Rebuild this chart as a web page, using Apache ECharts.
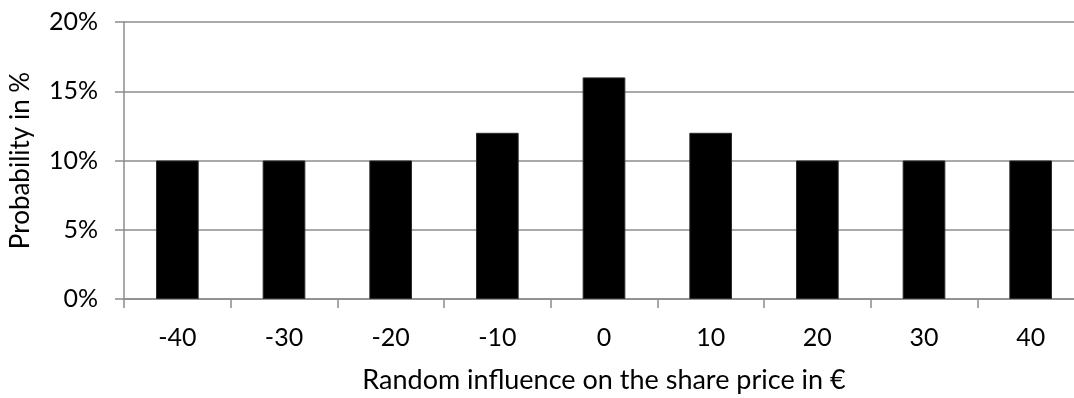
<!DOCTYPE html>
<html>
<head>
<meta charset="utf-8">
<title>Random influence on the share price</title>
<script src="https://cdn.jsdelivr.net/npm/echarts@6/dist/echarts.min.js"></script>
<style>
  html, body { margin: 0; padding: 0; background: #ffffff; }
  #chart { width: 1074px; height: 398px; }
</style>
</head>
<body>
<div id="chart"></div>
<script>
// Price change in euros and the probability of each outcome (in %)
const priceChanges = ['-40', '-30', '-20', '-10', '0', '10', '20', '30', '40'];
const probabilities = [10, 10, 10, 12, 16, 12, 10, 10, 10];
const yTicks = [0, 5, 10, 15, 20];

const FONT = 'Lato, "Open Sans", "DejaVu Sans", sans-serif';
const GRID_GRAY = '#8c8c8c';

const chart = echarts.init(document.getElementById('chart'), null, { renderer: 'canvas' });

chart.setOption({
  animation: false,
  backgroundColor: '#ffffff',
  grid: {
    left: 124,
    top: 22,
    width: 960,
    height: 277,
    containLabel: false,
    outerBoundsMode: 'none'
  },
  xAxis: {
    type: 'category',
    data: priceChanges,
    name: 'Random influence on the share price in €',
    nameLocation: 'middle',
    nameGap: 68,
    nameTextStyle: { fontFamily: FONT, fontSize: 27, color: '#000' },
    axisLine: { show: true, lineStyle: { color: GRID_GRAY, width: 1.5 } },
    axisTick: { show: true, length: 9, interval: 0, lineStyle: { color: GRID_GRAY, width: 1.5 } },
    axisLabel: { margin: 26, fontFamily: FONT, fontSize: 25, color: '#000', interval: 0 },
    splitLine: { show: false }
  },
  yAxis: {
    type: 'value',
    min: yTicks[0],
    max: yTicks[yTicks.length - 1],
    interval: yTicks[1] - yTicks[0],
    name: 'Probability in %',
    nameLocation: 'middle',
    nameGap: 90,
    nameTextStyle: { fontFamily: FONT, fontSize: 26, color: '#000' },
    axisLine: { show: true, lineStyle: { color: GRID_GRAY, width: 1.5 } },
    axisTick: { show: true, length: 9, lineStyle: { color: GRID_GRAY, width: 1.5 } },
    axisLabel: {
      margin: 26,
      fontFamily: FONT,
      fontSize: 25,
      color: '#000',
      formatter: v => v + '%'
    },
    splitLine: { show: true, lineStyle: { color: GRID_GRAY, width: 1.5 } }
  },
  series: [{
    type: 'bar',
    data: probabilities,
    barCategoryGap: '60%',
    itemStyle: { color: '#000000', borderColor: '#2a2a2a', borderWidth: 1 }
  }]
});
</script>
</body>
</html>
